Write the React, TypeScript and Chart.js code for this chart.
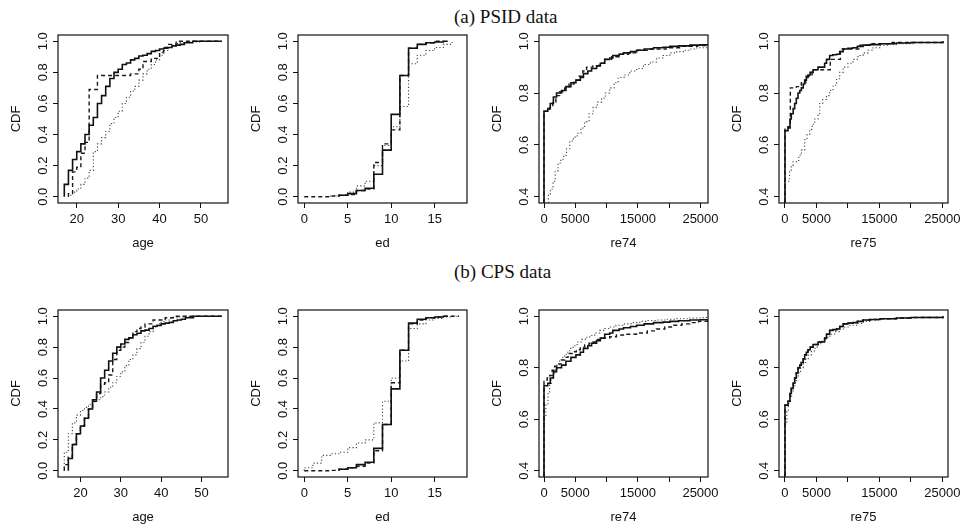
import React, { useEffect, useRef } from 'react';
import { Chart, registerables } from 'chart.js';
Chart.register(...registerables);

// ---------- tick values / labels ----------
const ageTicks = [20, 30, 40, 50];
const ageTickLabels = ['20', '30', '40', '50'];
const edTicks = [0, 5, 10, 15];
const edTickLabels = ['0', '5', '10', '15'];
const earnTicks = [0, 5000, 10000, 15000, 20000, 25000];
const earnTickLabels = ['0', '5000', '', '15000', '', '25000'];
const cdfTicks = [0, 0.2, 0.4, 0.6, 0.8, 1.0];
const cdfTickLabels = ['0.0', '0.2', '0.4', '0.6', '0.8', '1.0'];
const earnCdfTicks = [0.4, 0.6, 0.8, 1.0];
const earnCdfTickLabels = ['0.4', '0.6', '0.8', '1.0'];

// ---------- treated group (solid, same in both rows) ----------
const treatedAgeX = [17,18,19,20,21,22,23,24,25,26,27,28,29,30,31,32,33,34,35,36,37,38,39,40,41,42,43,44,45,46,48,55];
const treatedAgeY = [0.08,0.17,0.24,0.29,0.34,0.40,0.46,0.51,0.60,0.65,0.71,0.76,0.80,0.82,0.85,0.86,0.88,0.89,0.905,0.91,0.92,0.935,0.94,0.95,0.955,0.96,0.97,0.975,0.98,0.99,1.0,1.0];
const treatedEdX = [4,5,6,7,8,9,10,11,12,13,14,15,16,16.5];
const treatedEdY = [0.01,0.02,0.04,0.055,0.145,0.30,0.53,0.78,0.955,0.98,0.99,0.995,1.0,1.0];
const treatedRe74X = [0,600,1000,1500,2000,2800,3500,4300,5100,5800,6300,7000,7600,8400,9000,9700,10500,11000,12000,12700,13800,14800,16000,17500,19000,20100,21500,23300,25000,26100];
const treatedRe74Y = [0.73,0.74,0.76,0.785,0.80,0.81,0.825,0.84,0.85,0.86,0.875,0.885,0.895,0.905,0.915,0.93,0.935,0.945,0.95,0.955,0.96,0.965,0.97,0.975,0.977,0.98,0.982,0.985,0.986,0.988];
const treatedRe75X = [0,480,800,1000,1300,1540,1800,2070,2350,2600,2900,3130,3400,3660,4000,4460,5250,6300,6600,7100,7600,8200,8700,9240,10000,10800,11500,12400,13500,15100,17700,20000,25100];
const treatedRe75Y = [0.655,0.67,0.70,0.72,0.74,0.76,0.78,0.80,0.81,0.82,0.835,0.85,0.86,0.87,0.88,0.89,0.90,0.915,0.93,0.945,0.948,0.95,0.96,0.97,0.973,0.975,0.98,0.985,0.987,0.99,0.993,0.995,1.0];

// ---------- PSID: matched (dashed) and control (dotted) ----------
const psidMatchedAgeX = [18,19,20,21,22,23,25,33,35,36,38,40,41,42,44,55];
const psidMatchedAgeY = [0.02,0.16,0.19,0.28,0.35,0.69,0.78,0.79,0.82,0.87,0.89,0.93,0.96,0.98,1.0,1.0];
const psidCtrlAgeX = [18,19,20,21,22,23,24,25,26,27,28,29,30,31,32,33,34,35,36,37,38,39,40,41,42,43,44,45,46,48,50,55];
const psidCtrlAgeY = [0.01,0.03,0.05,0.08,0.12,0.17,0.29,0.34,0.38,0.42,0.47,0.51,0.55,0.60,0.64,0.68,0.71,0.75,0.79,0.82,0.85,0.88,0.91,0.94,0.96,0.975,0.985,0.99,0.993,0.996,0.998,1.0];
const psidMatchedEdX = [0,3,4,5,6,7,8,9,10,11,12,13,14,15,16];
const psidMatchedEdY = [0,0.005,0.01,0.015,0.04,0.05,0.22,0.34,0.43,0.78,0.955,0.98,0.99,1.0,1.0];
const psidCtrlEdX = [3,4,5,6,7,8,9,10,11,12,13,14,15,16,17];
const psidCtrlEdY = [0.005,0.01,0.03,0.07,0.10,0.20,0.33,0.45,0.58,0.855,0.91,0.94,0.96,0.98,1.0];
const psidMatchedRe74X = [0,900,1400,1900,2500,3300,4000,4800,5600,6200,6800,7800,8800,9700,10800,12000,13500,15000,17000,19500,22000,24500,26100];
const psidMatchedRe74Y = [0.73,0.745,0.765,0.79,0.805,0.82,0.835,0.85,0.865,0.885,0.90,0.905,0.915,0.93,0.94,0.95,0.955,0.965,0.97,0.975,0.98,0.983,0.986];
const psidCtrlRe74X = [0,700,1000,1450,1800,2250,2700,3150,3600,4100,4700,5300,5900,6500,7200,7850,8500,9200,9800,10500,11200,11850,12800,13700,14800,15900,17000,18000,19000,20100,21200,22300,23300,24400,26100];
const psidCtrlRe74Y = [0.33,0.41,0.43,0.46,0.50,0.53,0.545,0.56,0.585,0.615,0.63,0.645,0.665,0.69,0.72,0.745,0.765,0.78,0.80,0.82,0.84,0.86,0.87,0.885,0.895,0.91,0.92,0.935,0.945,0.955,0.96,0.965,0.97,0.975,0.98];
const psidMatchedRe75X = [0,850,1800,2600,3300,4300,7200,8800,11900,13500,17000,25100];
const psidMatchedRe75Y = [0.665,0.82,0.825,0.84,0.865,0.89,0.93,0.97,0.985,0.99,0.995,1.0];
const psidCtrlRe75X = [0,740,1000,1270,1800,2200,2600,3130,3500,3930,4300,4720,5250,5520,6000,6600,7100,7650,8200,8700,9240,10000,10800,11600,12400,13200,14000,15100,16500,17700,20400,25000];
const psidCtrlRe75Y = [0.46,0.50,0.52,0.535,0.54,0.56,0.58,0.62,0.64,0.66,0.68,0.70,0.72,0.76,0.775,0.79,0.81,0.83,0.855,0.88,0.90,0.915,0.93,0.945,0.955,0.965,0.975,0.985,0.988,0.99,0.995,1.0];

// ---------- CPS: matched (dashed) and control (dotted) ----------
const cpsMatchedAgeX = [16,17,18,19,20,21,22,23,24,25,26,27,28,29,30,31,32,33,34,35,36,38,41,43,55];
const cpsMatchedAgeY = [0.04,0.09,0.17,0.24,0.29,0.34,0.40,0.45,0.50,0.56,0.57,0.62,0.72,0.78,0.80,0.83,0.86,0.90,0.92,0.93,0.95,0.975,0.99,1.0,1.0];
const cpsCtrlAgeX = [16,17,18,19,20,21,22,23,24,25,26,27,28,29,30,31,32,33,34,35,36,37,38,39,40,41,42,43,44,46,55];
const cpsCtrlAgeY = [0.12,0.24,0.31,0.36,0.39,0.41,0.43,0.445,0.46,0.48,0.51,0.54,0.57,0.61,0.64,0.68,0.72,0.75,0.79,0.83,0.87,0.90,0.93,0.95,0.965,0.975,0.985,0.99,0.995,0.998,1.0];
const cpsMatchedEdX = [0,3,4,5,6,7,8,9,10,11,12,13,14,15,16,17.8];
const cpsMatchedEdY = [0,0.003,0.01,0.02,0.03,0.05,0.13,0.30,0.57,0.78,0.95,0.975,0.99,0.995,1.0,1.0];
const cpsCtrlEdX = [0,1,2,3,4,5,6,7,8,9,10,11,12,13,14,15,16,17,17.8];
const cpsCtrlEdY = [0.02,0.05,0.10,0.11,0.12,0.15,0.18,0.20,0.31,0.45,0.60,0.71,0.92,0.95,0.975,0.985,0.995,1.0,1.0];
const cpsMatchedRe74X = [0,500,900,1300,1700,2200,2770,3300,3840,4500,5170,5800,6500,7200,7840,8600,9430,10500,11570,13000,14770,16500,17960,19300,20600,22000,23300,24700,26100];
const cpsMatchedRe74Y = [0.747,0.76,0.77,0.79,0.806,0.815,0.83,0.84,0.855,0.862,0.87,0.88,0.888,0.895,0.90,0.91,0.915,0.92,0.927,0.93,0.935,0.943,0.95,0.958,0.965,0.97,0.975,0.98,0.985];
const cpsCtrlRe74X = [0,300,640,900,1170,1450,1700,2100,2500,3000,3570,4100,4640,5300,6000,6600,7300,8100,8900,9700,10500,11500,12600,13900,15300,16600,18000,19600,21200,23300,25400,26100];
const cpsCtrlRe74Y = [0.61,0.66,0.70,0.735,0.76,0.775,0.79,0.81,0.83,0.845,0.86,0.875,0.885,0.90,0.91,0.918,0.925,0.935,0.945,0.952,0.958,0.965,0.97,0.975,0.98,0.983,0.985,0.988,0.99,0.993,0.995,0.996];
// CPS matched re75 coincides with the treated curve in the picture
const cpsMatchedRe75X = treatedRe75X;
const cpsMatchedRe75Y = treatedRe75Y;
const cpsCtrlRe75X = [0,300,530,800,1060,1300,1590,1850,2120,2500,2910,3300,3700,4200,4770,5300,5830,6500,7150,7900,8740,9500,10330,11400,12450,13700,15100,17000,18800,21500,24900];
const cpsCtrlRe75Y = [0.59,0.63,0.66,0.69,0.71,0.73,0.75,0.765,0.78,0.80,0.82,0.835,0.85,0.865,0.88,0.893,0.905,0.918,0.93,0.94,0.95,0.958,0.965,0.972,0.98,0.985,0.99,0.992,0.995,0.997,1.0];

// ---------- layout / style ----------
const FONT = '"Liberation Sans", Arial, Helvetica, sans-serif';
const SERIF = '"Liberation Serif", "Times New Roman", serif';
const INK = '#111';
const Y_AXIS_W = 52;
const X_AXIS_H = 50;
const PAD_TOP = 12;
const PAD_RIGHT = 25;

type Curve = { xs: number[]; ys: number[] };
interface PanelSpec {
  boxLeft: number; boxTop: number; boxW: number; boxH: number;
  xMin: number; xMax: number; yMin: number; yMax: number;
  xTicks: number[]; xLabels: string[]; yTicks: number[]; yLabels: string[];
  xTitle: string; solid: Curve; dashed: Curve; dotted: Curve;
}

const c = (xs: number[], ys: number[]): Curve => ({ xs, ys });

const COLS = [
  { left: 58, w: 170 },
  { left: 298, w: 169 },
  { left: 539, w: 169 },
  { left: 779, w: 169 },
];
const ROWS = [
  { top: 35, h: 168 },
  { top: 310, h: 167 },
];

function makeRow(row: number, ageRange: number[], dashed: Curve[], dotted: Curve[]): PanelSpec[] {
  const r = ROWS[row];
  const base = (col: number) => ({ boxLeft: COLS[col].left, boxTop: r.top, boxW: COLS[col].w, boxH: r.h });
  return [
    { ...base(0), xMin: ageRange[0], xMax: ageRange[1], yMin: -0.04, yMax: 1.04, xTicks: ageTicks, xLabels: ageTickLabels, yTicks: cdfTicks, yLabels: cdfTickLabels, xTitle: 'age', solid: c(treatedAgeX, treatedAgeY), dashed: dashed[0], dotted: dotted[0] },
    { ...base(1), xMin: -0.72, xMax: 18.72, yMin: -0.04, yMax: 1.04, xTicks: edTicks, xLabels: edTickLabels, yTicks: cdfTicks, yLabels: cdfTickLabels, xTitle: 'ed', solid: c(treatedEdX, treatedEdY), dashed: dashed[1], dotted: dotted[1] },
    { ...base(2), xMin: -800, xMax: 26200, yMin: 0.376, yMax: 1.024, xTicks: earnTicks, xLabels: earnTickLabels, yTicks: earnCdfTicks, yLabels: earnCdfTickLabels, xTitle: 're74', solid: c(treatedRe74X, treatedRe74Y), dashed: dashed[2], dotted: dotted[2] },
    { ...base(3), xMin: -950, xMax: 25900, yMin: 0.376, yMax: 1.024, xTicks: earnTicks, xLabels: earnTickLabels, yTicks: earnCdfTicks, yLabels: earnCdfTickLabels, xTitle: 're75', solid: c(treatedRe75X, treatedRe75Y), dashed: dashed[3], dotted: dotted[3] },
  ];
}

const PANELS: PanelSpec[] = [
  ...makeRow(0, [15.48, 56.52],
    [c(psidMatchedAgeX, psidMatchedAgeY), c(psidMatchedEdX, psidMatchedEdY), c(psidMatchedRe74X, psidMatchedRe74Y), c(psidMatchedRe75X, psidMatchedRe75Y)],
    [c(psidCtrlAgeX, psidCtrlAgeY), c(psidCtrlEdX, psidCtrlEdY), c(psidCtrlRe74X, psidCtrlRe74Y), c(psidCtrlRe75X, psidCtrlRe75Y)]),
  ...makeRow(1, [14.44, 56.56],
    [c(cpsMatchedAgeX, cpsMatchedAgeY), c(cpsMatchedEdX, cpsMatchedEdY), c(cpsMatchedRe74X, cpsMatchedRe74Y), c(cpsMatchedRe75X, cpsMatchedRe75Y)],
    [c(cpsCtrlAgeX, cpsCtrlAgeY), c(cpsCtrlEdX, cpsCtrlEdY), c(cpsCtrlRe74X, cpsCtrlRe74Y), c(cpsCtrlRe75X, cpsCtrlRe75Y)]),
];

const framePlugin = {
  id: 'frame',
  afterDraw(chart: any) {
    const { ctx, chartArea: a } = chart;
    ctx.save();
    ctx.strokeStyle = INK;
    ctx.lineWidth = 1.2;
    ctx.strokeRect(a.left, a.top, a.right - a.left, a.bottom - a.top);
    ctx.restore();
  },
};

function toPoints(cv: Curve) {
  return [{ x: cv.xs[0], y: 0 }, ...cv.xs.map((x, i) => ({ x, y: cv.ys[i] }))];
}

function Panel({ spec }: { spec: PanelSpec }) {
  const ref = useRef<HTMLCanvasElement>(null);
  const w = Y_AXIS_W + spec.boxW + PAD_RIGHT;
  const h = PAD_TOP + spec.boxH + X_AXIS_H;
  useEffect(() => {
    const font = { family: FONT, size: 13 };
    const grid = { display: true, drawOnChartArea: false, drawTicks: true, tickLength: 5, color: INK, lineWidth: 1 };
    const chart = new Chart(ref.current as HTMLCanvasElement, {
      type: 'line',
      data: {
        datasets: [
          { data: toPoints(spec.solid), borderColor: '#111', borderWidth: 1.6, stepped: 'before', pointRadius: 0, fill: false },
          { data: toPoints(spec.dashed), borderColor: '#1a1a1a', borderWidth: 1.4, borderDash: [4, 3], stepped: 'before', pointRadius: 0, fill: false },
          { data: toPoints(spec.dotted), borderColor: '#444', borderWidth: 1.1, borderDash: [1.2, 2.2], stepped: 'before', pointRadius: 0, fill: false },
        ],
      } as any,
      options: {
        animation: false,
        responsive: false,
        maintainAspectRatio: false,
        events: [],
        layout: { padding: { top: PAD_TOP, right: PAD_RIGHT, left: 0, bottom: 0 } },
        plugins: { legend: { display: false }, tooltip: { enabled: false }, title: { display: false } },
        scales: {
          x: {
            type: 'linear',
            min: spec.xMin,
            max: spec.xMax,
            afterBuildTicks: (s: any) => { s.ticks = spec.xTicks.map((v) => ({ value: v })); },
            afterFit: (s: any) => { s.height = X_AXIS_H; },
            ticks: { callback: (_v: any, i: number) => spec.xLabels[i], font, color: INK, padding: 3.5, autoSkip: false, maxRotation: 0, minRotation: 0 },
            grid,
            border: { display: false },
            title: { display: true, text: spec.xTitle, font, color: INK, padding: { top: 0, bottom: 2.2 } },
          },
          y: {
            type: 'linear',
            min: spec.yMin,
            max: spec.yMax,
            afterBuildTicks: (s: any) => { s.ticks = spec.yTicks.map((v) => ({ value: v })); },
            afterFit: (s: any) => { s.width = Y_AXIS_W; },
            ticks: { callback: (_v: any, i: number) => spec.yLabels[i], font, color: INK, padding: 1, autoSkip: false, minRotation: 90, maxRotation: 90, crossAlign: 'center' },
            grid,
            border: { display: false },
            title: { display: true, text: 'CDF', font, color: INK, padding: { top: 3, bottom: 0 } },
          },
        },
      } as any,
      plugins: [framePlugin],
    });
    return () => chart.destroy();
  }, [spec]);
  return (
    <canvas
      ref={ref}
      width={w}
      height={h}
      style={{ position: 'absolute', left: spec.boxLeft - Y_AXIS_W, top: spec.boxTop - PAD_TOP, width: w, height: h }}
    />
  );
}

const titleStyle: React.CSSProperties = {
  position: 'absolute', left: 454, font: `19px ${SERIF}`, lineHeight: '22px', whiteSpace: 'nowrap', color: INK,
};

export default function App() {
  return (
    <div style={{ position: 'absolute', left: 0, top: 0, width: 965, height: 529, background: '#fff', overflow: 'hidden' }}>
      <div style={{ ...titleStyle, top: 6 }}>(a) PSID data</div>
      <div style={{ ...titleStyle, top: 261 }}>(b) CPS data</div>
      {PANELS.map((p, i) => <Panel key={i} spec={p} />)}
    </div>
  );
}
